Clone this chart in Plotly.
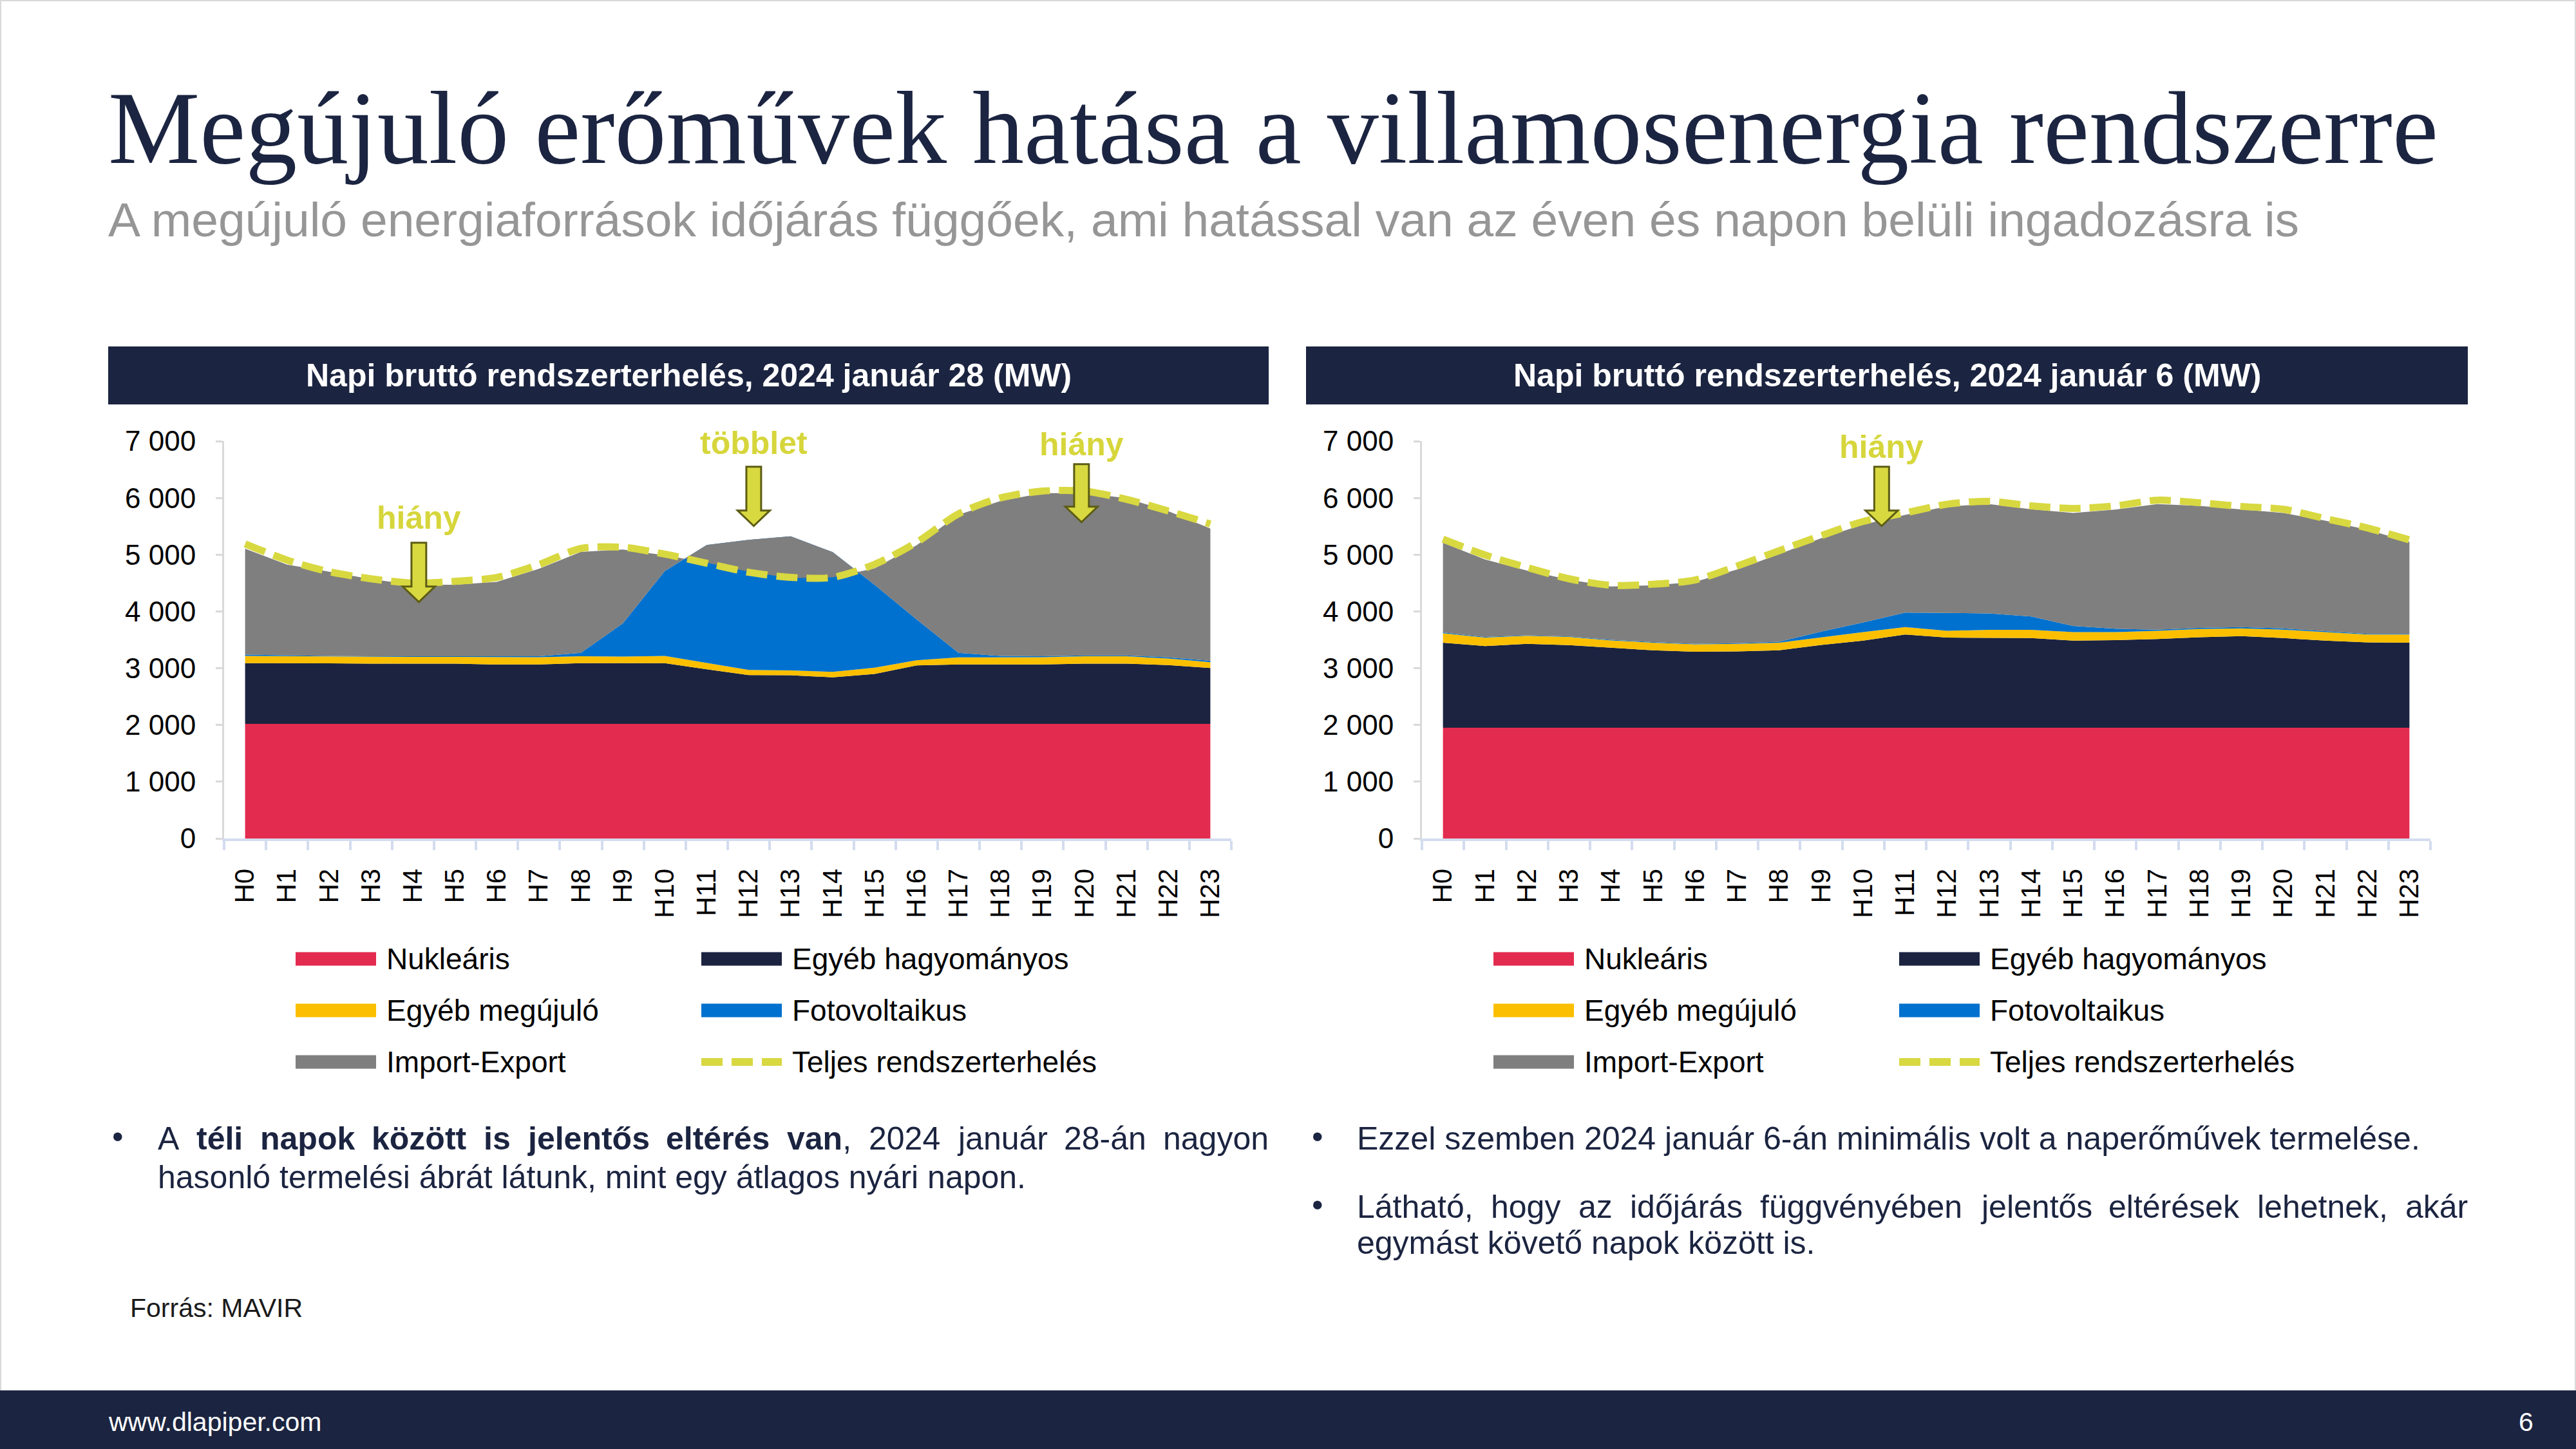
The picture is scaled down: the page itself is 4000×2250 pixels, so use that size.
import unicodedata
import plotly.graph_objects as go

# ---------------- data ----------------
HOURS = ["H0", "H1", "H2", "H3", "H4", "H5", "H6", "H7", "H8", "H9", "H10", "H11",
         "H12", "H13", "H14", "H15", "H16", "H17", "H18", "H19", "H20", "H21", "H22", "H23"]

SERIES_NAMES = ["Nukleáris", "Egyéb hagyományos", "Egyéb megújuló", "Fotovoltaikus", "Import-Export"]
TOTAL_NAME = "Teljes rendszerterhelés"

# 2024 január 28 (MW)
L_NUKLEARIS = [2020, 2020, 2020, 2020, 2020, 2020, 2020, 2020, 2020, 2020, 2020, 2020,
               2020, 2020, 2020, 2020, 2020, 2020, 2020, 2020, 2020, 2020, 2020, 2020]
L_HAGYOMANYOS = [1070, 1070, 1065, 1060, 1060, 1060, 1045, 1045, 1070, 1070, 1070, 960,
                 860, 855, 820, 880, 1030, 1045, 1045, 1045, 1060, 1060, 1035, 985]
L_MEGUJULO = [125, 120, 120, 120, 120, 120, 130, 130, 120, 115, 125, 110,
              90, 85, 95, 110, 90, 125, 130, 130, 130, 130, 115, 100]
L_FOTOVOLTAIKUS = [25, 15, 10, 10, 10, 10, 10, 15, 60, 585, 1495, 2080,
                   2290, 2365, 2110, 1460, 720, 80, 20, 15, 15, 15, 20, 25]
L_IMPORT_EXPORT = [1865, 1600, 1485, 1360, 1260, 1260, 1315, 1540, 1780, 1300, 280, -310,
                   -560, -740, -445, 290, 1305, 2435, 2730, 2875, 2860, 2770, 2575, 2330]
L_TELJES = [5190, 4905, 4700, 4575, 4500, 4530, 4600, 4825, 5110, 5130, 5010, 4850,
            4690, 4600, 4600, 4830, 5215, 5720, 6000, 6120, 6120, 5975, 5770, 5540]

# 2024 január 6 (MW)
R_NUKLEARIS = [1950, 1950, 1950, 1950, 1950, 1950, 1950, 1950, 1950, 1950, 1950, 1950,
               1950, 1950, 1950, 1950, 1950, 1950, 1950, 1950, 1950, 1950, 1950, 1950]
R_HAGYOMANYOS = [1500, 1440, 1480, 1455, 1410, 1365, 1340, 1345, 1365, 1460, 1535, 1645,
                 1590, 1585, 1580, 1535, 1545, 1565, 1595, 1615, 1580, 1535, 1505, 1500]
R_MEGUJULO = [165, 150, 140, 145, 130, 135, 130, 135, 135, 135, 150, 130,
              120, 140, 145, 150, 140, 145, 145, 135, 150, 150, 140, 145]
R_FOTOVOLTAIKUS = [15, 10, 10, 10, 10, 10, 10, 10, 15, 100, 170, 255,
                   315, 290, 235, 110, 60, 20, 20, 25, 20, 15, 10, 10]
R_IMPORT_EXPORT = [1580, 1365, 1140, 1000, 940, 1000, 1090, 1300, 1545, 1645, 1725, 1720,
                   1875, 1925, 1890, 1990, 2100, 2210, 2150, 2070, 2035, 1950, 1835, 1620]
R_TELJES = [5275, 4995, 4775, 4575, 4460, 4480, 4555, 4800, 5070, 5335, 5585, 5735,
            5890, 5940, 5860, 5815, 5860, 5960, 5915, 5850, 5800, 5635, 5470, 5260]

Y_TICKS = [0, 1000, 2000, 3000, 4000, 5000, 6000, 7000]

# callouts: (label, hour position, label value, arrow top value, arrow tip value)
L_CALLOUTS = [("hiány", 4.14, 5650, 5210, 4166),
              ("többlet", 12.12, 6965, 6549, 5505),
              ("hiány", 19.93, 6945, 6595, 5573)]
R_CALLOUTS = [("hiány", 10.44, 6900, 6549, 5505)]

# ---------------- styles ----------------
COLORS = ["#E32B4F", "#1B2340", "#FBBF00", "#0071CE", "#7F7F7F"]
TOTAL_COLOR = "#D8D841"
NAVY = "#1B2440"
CALLOUT_COLOR = "#D6D63C"
ARROW_LINE = "#5C5C14"
SANS = "Liberation Sans, Arial, sans-serif"
SERIF = "Liberation Serif, Times New Roman, serif"

W, H = 4000, 2250


def px(x):
    return x / W


def py(y):
    return 1 - y / H


fig = go.Figure()

charts = [
    dict(title="Napi bruttó rendszerterhelés, 2024 január 28 (MW)",
         series=[L_NUKLEARIS, L_HAGYOMANYOS, L_MEGUJULO, L_FOTOVOLTAIKUS, L_IMPORT_EXPORT],
         total=L_TELJES, xa="x", ya="y", box=(168, 1970), axis=(348, 1912), callouts=L_CALLOUTS),
    dict(title="Napi bruttó rendszerterhelés, 2024 január 6 (MW)",
         series=[R_NUKLEARIS, R_HAGYOMANYOS, R_MEGUJULO, R_FOTOVOLTAIKUS, R_IMPORT_EXPORT],
         total=R_TELJES, xa="x2", ya="y2", box=(2028, 3832), axis=(2208, 3774), callouts=R_CALLOUTS),
]

xs = list(range(len(HOURS)))
shapes = []
annotations = []

# page border & footer
shapes.append(dict(type="rect", xref="paper", yref="paper", x0=0, x1=1, y0=0, y1=1,
                   line=dict(color="#D9D9D9", width=4), fillcolor="rgba(0,0,0,0)", layer="below"))
shapes.append(dict(type="rect", xref="paper", yref="paper", x0=0, x1=1, y0=0, y1=py(2159),
                   line=dict(width=0), fillcolor=NAVY, layer="below"))

DASH = "33px,14px"

for ci, c in enumerate(charts):
    for name, vals, col in zip(SERIES_NAMES, c["series"], COLORS):
        fig.add_trace(go.Scatter(x=xs, y=vals, name=name, mode="lines",
                                 line=dict(width=0, color=col), fillcolor=col,
                                 stackgroup="s" + str(ci), xaxis=c["xa"], yaxis=c["ya"],
                                 showlegend=False, hoverinfo="skip"))
    fig.add_trace(go.Scatter(x=xs, y=c["total"], name=TOTAL_NAME, mode="lines",
                             line=dict(color=TOTAL_COLOR, width=11, dash=DASH,
                                       shape="spline", smoothing=0.8),
                             xaxis=c["xa"], yaxis=c["ya"], showlegend=False, hoverinfo="skip"))

    # header box
    b0, b1 = c["box"]
    shapes.append(dict(type="rect", xref="paper", yref="paper", x0=px(b0), x1=px(b1),
                       y0=py(628), y1=py(538), line=dict(width=0), fillcolor=NAVY, layer="below"))
    annotations.append(dict(text="<b>" + c["title"] + "</b>", xref="paper", yref="paper",
                            x=px((b0 + b1) / 2), y=py(583), xanchor="center", yanchor="middle",
                            showarrow=False, font=dict(family=SANS, size=50, color="white")))

    # callouts
    xr = c["xa"]
    yr = c["ya"]
    for label, hx, vt, vtop, vtip in c["callouts"]:
        annotations.append(dict(text="<b>" + label + "</b>", xref=xr, yref=yr, x=hx, y=vt,
                                xanchor="center", yanchor="middle", showarrow=False,
                                font=dict(family=SANS, size=50, color=CALLOUT_COLOR)))
        sw, hw, hh = 0.176, 0.384, 272
        base = vtip + hh
        path = (f"M{hx - sw},{vtop} L{hx + sw},{vtop} L{hx + sw},{base} L{hx + hw},{base} "
                f"L{hx},{vtip} L{hx - hw},{base} L{hx - sw},{base} Z")
        shapes.append(dict(type="path", xref=xr, yref=yr, path=path, fillcolor=TOTAL_COLOR,
                           line=dict(color=ARROW_LINE, width=3), layer="above"))

    # legend (manual, two columns)
    lx0 = c["axis"][0] + 111
    rows = [1489, 1569, 1649]
    names = SERIES_NAMES + [TOTAL_NAME]
    for i, name in enumerate(names):
        r, col_i = divmod(i, 2)
        sx = lx0 + col_i * 630
        yy = rows[r]
        if i < len(SERIES_NAMES):
            shapes.append(dict(type="rect", xref="paper", yref="paper", x0=px(sx), x1=px(sx + 125),
                               y0=py(yy + 10.5), y1=py(yy - 10.5), line=dict(width=0),
                               fillcolor=COLORS[i]))
        else:
            shapes.append(dict(type="line", xref="paper", yref="paper", x0=px(sx), x1=px(sx + 125),
                               y0=py(yy), y1=py(yy), line=dict(color=TOTAL_COLOR, width=12, dash=DASH)))
        annotations.append(dict(text=name, xref="paper", yref="paper", x=px(sx + 139), y=py(yy),
                                xanchor="left", yanchor="middle", showarrow=False,
                                font=dict(family=SANS, size=46, color="black")))

# ---------------- axes ----------------
ydom = [py(1302), py(685)]
ytext = [f"{v:,}".replace(",", " ") for v in Y_TICKS]
axis_common_y = dict(range=[0, 7000], tickmode="array", tickvals=Y_TICKS, ticktext=ytext,
                     showline=True, linecolor="#D9D9D9", linewidth=3, ticks="outside",
                     ticklen=10, tickwidth=3, tickcolor="#D9D9D9", showgrid=False, zeroline=False,
                     ticklabelstandoff=22, tickfont=dict(family=SANS, size=44, color="black"),
                     domain=ydom, fixedrange=True, automargin=False)
axis_common_x = dict(range=[-0.5, 23.5], tickmode="array", tickvals=xs, ticktext=HOURS,
                     tickangle=-90, ticks="", showline=True, linecolor="#D3DCEF", linewidth=4,
                     showgrid=False, zeroline=False, ticklabelstandoff=26, automargin=False,
                     minor=dict(tickmode="linear", tick0=-0.5, dtick=1, ticks="outside",
                                ticklen=14, tickwidth=4, tickcolor="#D3DCEF", showgrid=False),
                     tickfont=dict(family=SANS, size=42, color="black"), fixedrange=True)

layout_axes = {}
for c in charts:
    xk = "xaxis" if c["xa"] == "x" else "xaxis2"
    yk = "yaxis" if c["ya"] == "y" else "yaxis2"
    layout_axes[xk] = dict(axis_common_x, domain=[px(c["axis"][0]), px(c["axis"][1])], anchor=c["ya"])
    layout_axes[yk] = dict(axis_common_y, anchor=c["xa"])

# ---------------- text ----------------
annotations.append(dict(text="Megújuló erőművek hatása a villamosenergia rendszerre",
                        xref="paper", yref="paper", x=px(166), y=py(199), xanchor="left",
                        yanchor="middle", showarrow=False,
                        font=dict(family=SERIF, size=160, color=NAVY)))
annotations.append(dict(text="A megújuló energiaforrások időjárás függőek, ami hatással van az éven és napon belüli ingadozásra is",
                        xref="paper", yref="paper", x=px(166), y=py(341), xanchor="left",
                        yanchor="middle", showarrow=False,
                        font=dict(family=SANS, size=75, color="#969696")))

# Arial/Helvetica advance widths (per 1000 em) for justified lines
AR = {" ": 278, ",": 278, ".": 278, "-": 333, ":": 278, "(": 333, ")": 333,
      "A": 667, "E": 667, "F": 611, "L": 556, "M": 833, "H": 722,
      "a": 556, "b": 556, "c": 500, "d": 556, "e": 556, "f": 278, "g": 556, "h": 556,
      "i": 222, "j": 222, "k": 500, "l": 222, "m": 833, "n": 556, "o": 556, "p": 556,
      "q": 556, "r": 333, "s": 500, "t": 278, "u": 556, "v": 500, "w": 722, "x": 500,
      "y": 500, "z": 500}
AB = {" ": 278, ",": 278, ".": 278, "-": 333,
      "a": 556, "b": 611, "c": 556, "d": 611, "e": 556, "f": 333, "g": 611, "h": 611,
      "i": 278, "j": 278, "k": 556, "l": 278, "m": 889, "n": 611, "o": 611, "p": 611,
      "q": 611, "r": 389, "s": 556, "t": 333, "u": 611, "v": 556, "w": 778, "x": 556,
      "y": 556, "z": 500}


def seg_width(text, bold, size):
    tbl = AB if bold else AR
    tot = 0
    for ch in text:
        base = unicodedata.normalize("NFD", ch)[0]
        tot += tbl.get(base, 556)
    return tot * size / 1000


def justify(words, x0, x1, y, size, color):
    widths = [sum(seg_width(t, b, size) for t, b in w) for w in words]
    gap = (x1 - x0 - sum(widths)) / (len(words) - 1)
    x = x0
    for w, wd in zip(words, widths):
        txt = "".join(("<b>" + t + "</b>") if b else t for t, b in w)
        annotations.append(dict(text=txt, xref="paper", yref="paper", x=px(x - 2), y=py(y),
                                xanchor="left", yanchor="middle", showarrow=False,
                                font=dict(family=SANS, size=size, color=color)))
        x += wd + gap


def plain(text, x, y, size, color, anchor="left"):
    annotations.append(dict(text=text, xref="paper", yref="paper", x=px(x), y=py(y),
                            xanchor=anchor, yanchor="middle", showarrow=False,
                            font=dict(family=SANS, size=size, color=color)))


BODY = "#1B2440"
BS = 50


def words_of(line, bold_words=()):
    out = []
    for wd in line.split(" "):
        out.append([(wd, wd in bold_words)])
    return out


l1 = words_of("A téli napok között is jelentős eltérés van 2024 január 28-án nagyon",
              {"téli", "napok", "között", "is", "jelentős", "eltérés"})
# "van," : bold word + regular comma
l1 = l1[:7] + [[("van", True), (",", False)]] + l1[8:]
plain("•", 172, 1765, BS, BODY)
justify(l1, 245, 1970, 1768, BS, BODY)
plain("hasonló termelési ábrát látunk, mint egy átlagos nyári napon.", 243, 1828, BS, BODY)

plain("•", 2035, 1765, BS, BODY)
plain("Ezzel szemben 2024 január 6-án minimális volt a naperőművek termelése.", 2105, 1768, BS, BODY)
plain("•", 2035, 1871, BS, BODY)
justify(words_of("Látható, hogy az időjárás függvényében jelentős eltérések lehetnek, akár"),
        2107, 3832, 1874, BS, BODY)
plain("egymást követő napok között is.", 2105, 1930, BS, BODY)

plain("Forrás: MAVIR", 200, 2031, 41, "#1A1A1A")
plain("www.dlapiper.com", 166, 2208, 41, "white")
plain("6", 3922, 2208, 41, "white", anchor="center")

fig.update_layout(width=W, height=H, margin=dict(l=0, r=0, t=0, b=0, pad=0, autoexpand=False),
                  paper_bgcolor="white", plot_bgcolor="white", showlegend=False,
                  shapes=shapes, annotations=annotations, **layout_axes)

fig.write_html("out.html")
